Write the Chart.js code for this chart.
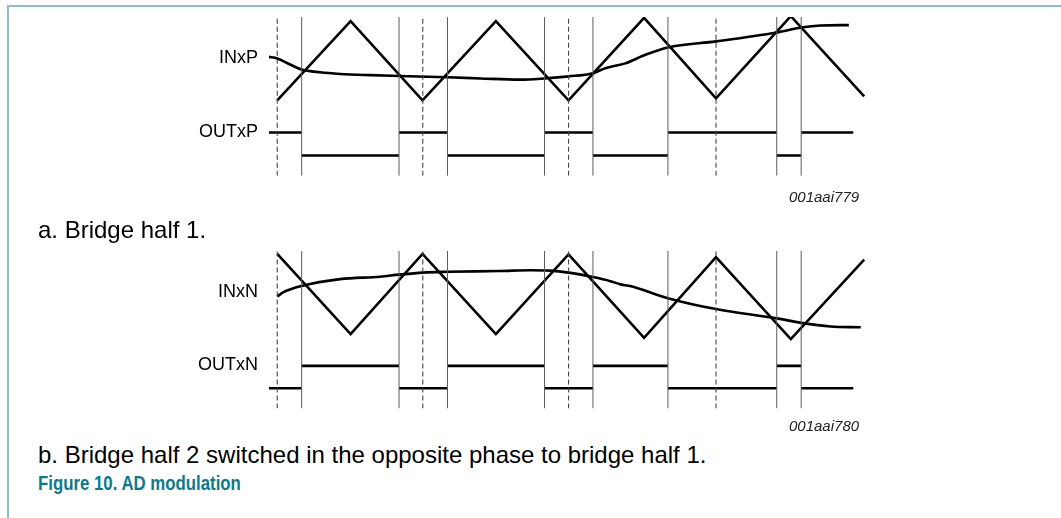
<!DOCTYPE html>
<html>
<head>
<meta charset="utf-8">
<script src="https://cdn.jsdelivr.net/npm/chart.js@4/dist/chart.umd.min.js"></script>
<style>
  html, body { margin:0; padding:0; background:#fff; width:1061px; height:518px; overflow:hidden;
    font-family:"Liberation Sans", Arial, Helvetica, sans-serif; color:#000; }
  #frame { position:absolute; left:7px; top:5px; width:1054px; height:513px;
    border-top:2px solid #8fbac8; border-left:2px solid #8fbac8; box-sizing:border-box; }
  canvas { position:absolute; left:0; }
  .lbl { position:absolute; font-size:18px; line-height:1; text-align:right; width:120px; white-space:nowrap; }
  .id { position:absolute; font-size:15px; line-height:1; font-style:italic; white-space:nowrap; color:#222; }
  .cap { position:absolute; left:38px; font-size:24px; line-height:1; white-space:nowrap; }
  .title { position:absolute; left:38px; font-size:21px; line-height:1; font-weight:bold; color:#0a7b8c; white-space:nowrap;
    transform:scaleX(0.8); transform-origin:0 50%; }
</style>
</head>
<body>
<div id="frame"></div>
<canvas id="ca" width="1061" height="200" style="top:0"></canvas>
<canvas id="cb" width="1061" height="180" style="top:240px"></canvas>

<div class="lbl" style="left:138px; top:48px">INxP</div>
<div class="lbl" style="left:138px; top:122px">OUTxP</div>
<div class="id" style="left:789px; top:189px">001aai779</div>
<div class="cap" style="top:218px">a. Bridge half 1.</div>

<div class="lbl" style="left:138px; top:282px">INxN</div>
<div class="lbl" style="left:138px; top:355px">OUTxN</div>
<div class="id" style="left:789px; top:418px">001aai780</div>
<div class="cap" style="top:443px">b. Bridge half 2 switched in the opposite phase to bridge half 1.</div>
<div class="title" style="top:472px">Figure 10. AD modulation</div>

<script>
// ---- time axis (one unit = half a carrier period) ----
const X_MIN = -0.115, X_MAX = 8.03;

// triangle carrier vertices
const triT = [0, 1, 1.98, 2.98, 3.97, 5, 5.98, 7, 8];
const triA = [-1, 0.95, -1, 0.95, -1, 1.03, -0.95, 1.07, -0.9];      // bridge half 1
const triB = [1, -0.98, 1, -0.98, 0.99, -1.07, 0.92, -1.1, 0.86];     // bridge half 2

// input signals
const inAT = [-0.115, 0, 0.134, 0.333, 0.584, 0.857, 1.266, 1.66, 2.321, 2.767, 3.312, 3.643, 3.971, 4.303, 4.472, 4.608, 4.745, 5.018, 5.325, 5.981, 6.808, 7.141, 7.405, 7.791];
const inAV = [0.07, 0.03, -0.08, -0.24, -0.31, -0.35, -0.38, -0.4, -0.43, -0.46, -0.49, -0.46, -0.41, -0.33, -0.21, -0.15, -0.09, 0.12, 0.3, 0.45, 0.67, 0.79, 0.84, 0.85];
const inBT = [0, 0.079, 0.333, 0.857, 1.4, 1.66, 1.984, 2.321, 3.04, 3.45, 3.72, 3.971, 4.303, 4.54, 4.68, 4.81, 5.325, 5.981, 6.808, 7.141, 7.542, 7.953];
const inBV = [-0.05, 0.05, 0.21, 0.38, 0.44, 0.49, 0.54, 0.56, 0.58, 0.6, 0.59, 0.54, 0.43, 0.33, 0.25, 0.21, -0.09, -0.36, -0.59, -0.7, -0.79, -0.81];

// switching instants (solid markers) and carrier extremes (dashed markers)
const switchT = [0.333, 1.66, 2.321, 3.643, 4.303, 5.325, 6.808, 7.141];
const dashT = [0, 1.984, 3.971, 5.981];

// output levels between edges
const outEdges = [-0.115, 0.333, 1.66, 2.321, 3.643, 4.303, 5.325, 6.808, 7.141, 7.851];
const outA = [1, 0, 1, 0, 1, 0, 1, 0, 1];
const outB = [0, 1, 0, 1, 0, 1, 0, 1, 0];

// ---- builders ----
const pts = (xs, ys) => xs.map((x, i) => ({x, y: ys[i]}));
function levelSegs(edges, lv) {
  const d = [];
  lv.forEach((v, i) => { d.push({x: edges[i], y: v}, {x: edges[i+1], y: v}, {x: edges[i+1], y: null}); });
  return d;
}
function vSegs(ts) {
  const d = [];
  ts.forEach(t => { d.push({x: t, y: 0}, {x: t, y: 1}, {x: t, y: null}); });
  return d;
}

function build(id, tri, inT, inV, out, yA, yO, pad) {
  return new Chart(document.getElementById(id), {
    type: 'line',
    data: { datasets: [
      { data: vSegs(switchT), yAxisID: 'yV', borderColor: '#5c5c5c', borderWidth: 1, spanGaps: false },
      { data: vSegs(dashT), yAxisID: 'yV', borderColor: '#444', borderWidth: 1.1, borderDash: [5, 3], spanGaps: false },
      { data: pts(triT, tri), yAxisID: 'yA', borderColor: '#000', borderWidth: 2.6 },
      { data: pts(inT, inV), yAxisID: 'yA', borderColor: '#000', borderWidth: 2.6, cubicInterpolationMode: 'monotone' },
      { data: levelSegs(outEdges, out), yAxisID: 'yO', borderColor: '#000', borderWidth: 2.6, spanGaps: false }
    ]},
    options: {
      responsive: false, animation: false, events: [],
      layout: { padding: pad },
      plugins: { legend: { display: false }, tooltip: { enabled: false } },
      elements: { point: { radius: 0 }, line: { tension: 0, borderCapStyle: 'butt' } },
      scales: {
        x: { type: 'linear', min: X_MIN, max: X_MAX, display: false },
        yA: { type: 'linear', min: yA[0], max: yA[1], display: false },
        yO: { type: 'linear', min: yO[0], max: yO[1], display: false },
        yV: { type: 'linear', min: 0, max: 1, display: false }
      }
    }
  });
}

build('ca', triA, inAT, inAV, outA, [-2.853, 1.052], [-0.883, 6.026],
      { left: 268.8, right: 1061 - 866.4, top: 16.9, bottom: 200 - 175.8 });
build('cb', triB, inBT, inBV, outB, [-2.815, 1.074], [-0.91, 6.152],
      { left: 268.8, right: 1061 - 866.4, top: 11, bottom: 180 - 168.5 });
</script>
</body>
</html>
